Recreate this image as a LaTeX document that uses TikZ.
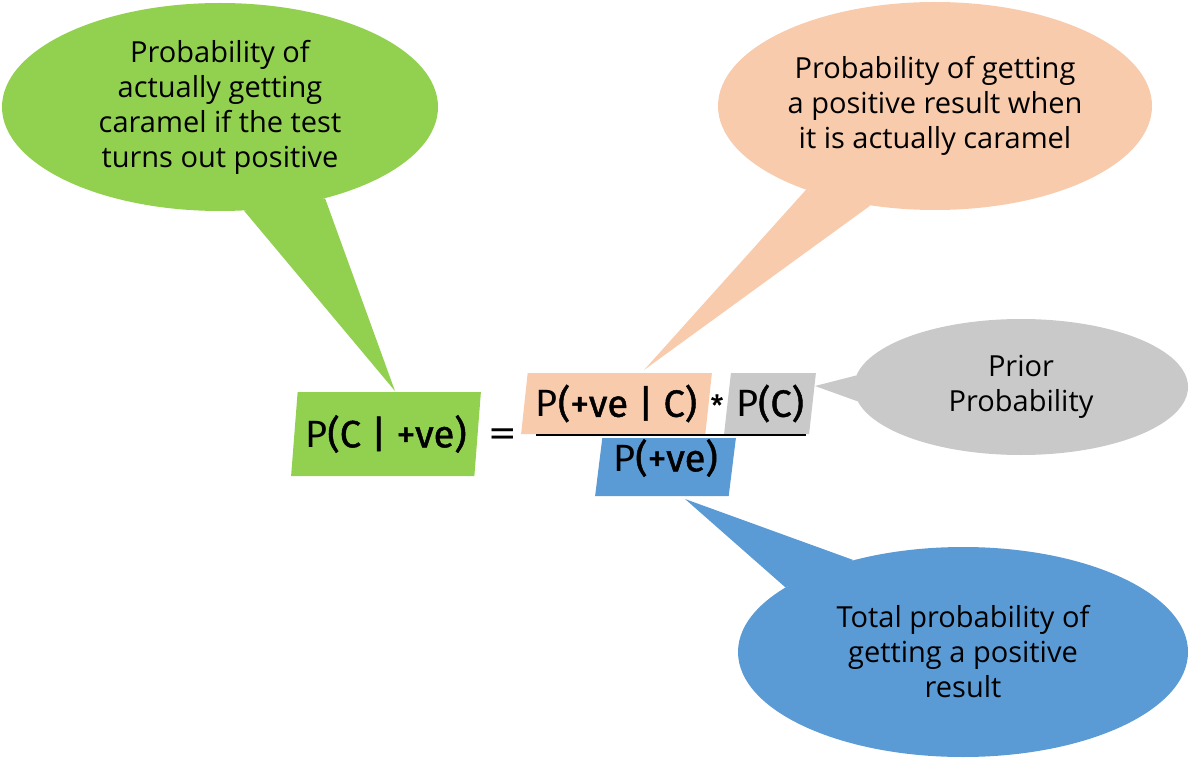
\documentclass[tikz,border=0pt]{standalone}
\usepackage{fontspec}
\setmainfont{Open Sans}
\newfontfamily\eqfont{Fira Sans}[BoldFont={Fira Sans}, BoldFeatures={FakeBold=1.2}]
\usepackage{xcolor}
\definecolor{Leaf Green}{HTML}{92D050}
\definecolor{Peach}{HTML}{F8CBAD}
\definecolor{Ash Grey}{HTML}{C9C9C9}
\definecolor{Steel Blue}{HTML}{5B9BD5}
\colorlet{cGreen}{Leaf Green}
\colorlet{cPeach}{Peach}
\colorlet{cGrey}{Ash Grey}
\colorlet{cBlue}{Steel Blue}
\usetikzlibrary{calc, positioning, shapes.geometric}
\newcommand{\notesize}{\fontsize{29}{35}\selectfont}
\newcommand{\eqsize}{\fontsize{38}{42}\selectfont}
\tikzset{
	note/.style={
		ellipse,
		inner sep=0pt,
		align=center,
		font=\notesize
	},
	slab/.style={
		trapezium,
		trapezium left angle=81,
		trapezium right angle=99,
		trapezium stretches=true,
		inner sep=0pt,
		font=\eqfont\eqsize
	},
	fracbar/.style={
		line width=2pt
	}
}

\begin{document}
\begin{tikzpicture}[x=1pt, y=-1pt]
\useasboundingbox (0,0) rectangle (1190,759);
% ---
% Formula
% ---
\node[slab, fill=cGreen, minimum width=190, minimum height=84] at (386,434) (gbox) {P{\bfseries(C | +ve)}};
\node[font=\eqfont\eqsize, inner sep=0pt] at (503,438) (eq) {\scalebox{1.5}[1]{=}};
\node[slab, fill=cPeach, minimum width=191, minimum height=61] at (616.5,403.5) (obox) {P{\bfseries(+ve | C)}};
\node[slab, fill=cGrey, minimum width=92, minimum height=61] at (770,403.5) (pbox) {P{\bfseries(C)}};
\node[font=\eqfont\fontsize{28}{30}\selectfont\bfseries, inner sep=0pt] at (717,405) (star) {*};
\node[slab, fill=cBlue, minimum width=141, minimum height=58] at (665.5,467) (bbox) {\raisebox{9pt}[\height][\depth]{P{\bfseries(+ve)}}};

\coordinate (barL) at (536,435);
\coordinate (barR) at (806,435);
\draw[fracbar] (barL) -- (barR);

% ---
% Callouts
% ---
\node[note, fill=cGreen, minimum width=436, minimum height=208] at (220,107) (gnote) {Probability of\\actually getting\\caramel if the test\\turns out positive};
\node[note, fill=cPeach, minimum width=434, minimum height=208] at (935,106) (onote) {Probability of getting\\a positive result when\\it is actually caramel};
\node[note, fill=cGrey, minimum width=334, minimum height=136] at (1021,387) (pnote) {Prior\\Probability};
\node[note, fill=cBlue, minimum width=450, minimum height=210] at (963,652) (bnote) {Total probability of\\getting a positive\\result};

\coordinate (gtip) at (395,391);
\coordinate (otip) at (644,370);
\coordinate (ptip) at (815,386);
\coordinate (btip) at (685,499);

\fill[cGreen] (gnote.-77) -- (gtip) -- (gnote.-41) -- cycle;
\fill[cPeach] (onote.-147) -- (otip) -- (onote.-123) -- cycle;
\fill[cGrey] (pnote.176) -- (ptip) -- (pnote.-175) -- cycle;
\fill[cBlue] (bnote.140) -- (btip) -- (bnote.160) -- cycle;
\end{tikzpicture}
\end{document}
